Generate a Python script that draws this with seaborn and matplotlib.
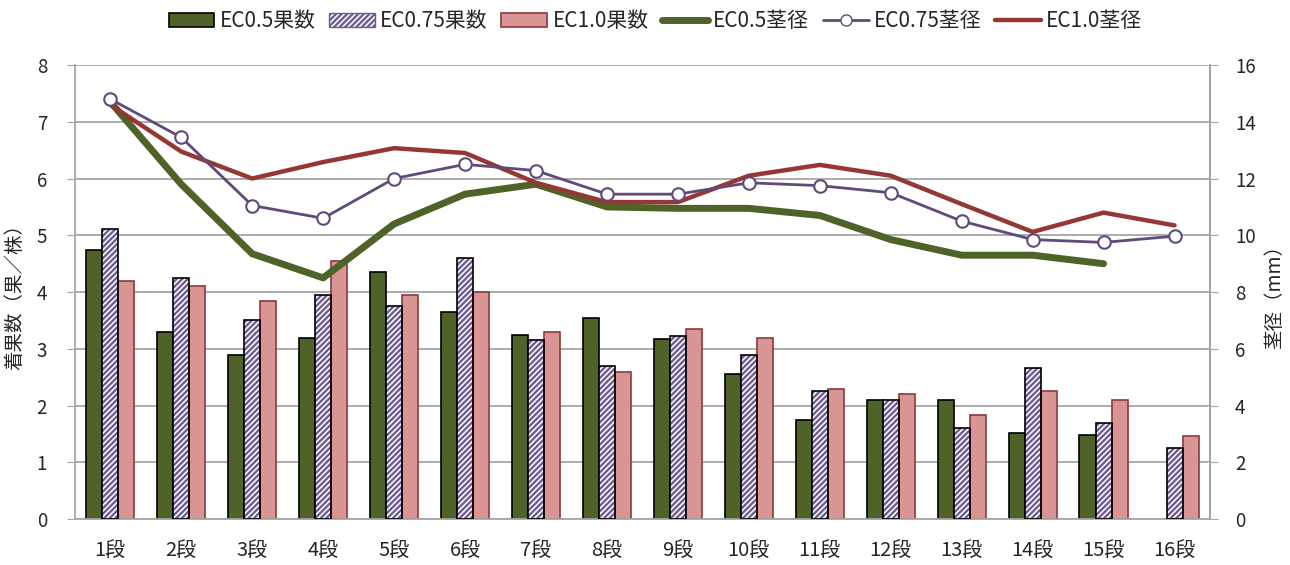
import numpy as np
import pandas as pd
import matplotlib
matplotlib.use('Agg')
import matplotlib.pyplot as plt
import seaborn as sns
from matplotlib.patches import Rectangle, Patch
from matplotlib.lines import Line2D

# data
stages = [f'{i}段' for i in range(1, 17)]
fruit_ec05 = [4.75, 3.30, 2.90, 3.20, 4.35, 3.65, 3.25, 3.55, 3.17, 2.55, 1.75, 2.10, 2.10, 1.52, 1.48, np.nan]
fruit_ec075 = [5.12, 4.25, 3.50, 3.95, 3.75, 4.60, 3.15, 2.70, 3.22, 2.90, 2.25, 2.10, 1.60, 2.66, 1.70, 1.25]
fruit_ec10 = [4.20, 4.10, 3.85, 4.55, 3.95, 4.00, 3.30, 2.60, 3.35, 3.20, 2.30, 2.20, 1.84, 2.25, 2.10, 1.46]
stem_ec05 = [14.7, 11.8, 9.35, 8.5, 10.4, 11.45, 11.8, 11.0, 10.95, 10.95, 10.7, 9.85, 9.3, 9.3, 9.0, np.nan]
stem_ec075 = [14.8, 13.45, 11.05, 10.6, 12.0, 12.5, 12.28, 11.45, 11.45, 11.85, 11.75, 11.5, 10.5, 9.85, 9.75, 9.97]
stem_ec10 = [14.6, 12.95, 12.0, 12.58, 13.07, 12.9, 11.85, 11.17, 11.17, 12.1, 12.48, 12.1, 11.1, 10.12, 10.8, 10.35]

bar_names = ['EC0.5果数', 'EC0.75果数', 'EC1.0果数']
line_names = ['EC0.5茎径', 'EC0.75茎径', 'EC1.0茎径']

green = '#4F6228'
purple = '#604A7B'
hatch_purple = '#6E5C92'
pink = '#D99594'
red = '#953735'
gridc = '#A6A6A6'

df = pd.DataFrame({
    '段': stages * 3,
    '果数': fruit_ec05 + fruit_ec075 + fruit_ec10,
    '区': sum([[n] * len(stages) for n in bar_names], []),
})

sns.set_style('white')
plt.rcParams['font.family'] = ['Noto Sans CJK JP', 'DejaVu Sans']
plt.rcParams['hatch.linewidth'] = 1.7

fig = plt.figure(figsize=(12.9, 5.65), dpi=100)
ax = fig.add_axes([0.058, 0.081, 0.880, 0.804])

sns.barplot(data=df, x='段', y='果数', hue='区', hue_order=bar_names, order=stages,
            palette=[green, 'white', pink], width=0.68, gap=0, saturation=1,
            legend=False, ax=ax, zorder=2)

# bar styling per series
for p in ax.containers[0]:
    p.set_edgecolor('black')
    p.set_linewidth(1.2)
for p in ax.containers[1]:
    p.set_facecolor('white')
    p.set_edgecolor(hatch_purple)
    p.set_hatch('//////')
    p.set_linewidth(0)
    ax.add_patch(Rectangle(p.get_xy(), p.get_width(), p.get_height(), fill=False,
                           edgecolor='black', linewidth=1.2, zorder=3))
for p in ax.containers[2]:
    p.set_edgecolor('#8B3A3A')
    p.set_linewidth(1.2)

ax.set_ylim(0, 8)
ax.set_xlim(-0.5, len(stages) - 0.5)
ax.set_yticks(range(0, 9))
ax.grid(axis='y', color=gridc, linewidth=1.3, zorder=0)
ax.set_axisbelow(True)
ax.set_xlabel('')
ax.set_ylabel('着果数（果／株）', fontsize=14, labelpad=8)
ax.tick_params(axis='y', labelsize=13.5, length=6, color=gridc, direction='out', pad=14)
ax.tick_params(axis='x', which='major', labelsize=14.5, length=0, pad=15)
ax.set_xticks(np.arange(-0.5, len(stages)), minor=True)
ax.tick_params(axis='x', which='minor', length=7, color=gridc, width=1.3)
for s in ['left', 'bottom', 'right']:
    ax.spines[s].set_color(gridc)
    ax.spines[s].set_linewidth(1.3)
ax.spines['top'].set_visible(False)

ax2 = ax.twinx()
pos = np.arange(len(stages))
sns.lineplot(x=pos, y=stem_ec05, ax=ax2, color=green, linewidth=5)
sns.lineplot(x=pos, y=stem_ec10, ax=ax2, color=red, linewidth=3.2)
sns.lineplot(x=pos, y=stem_ec075, ax=ax2, color=purple, linewidth=2, marker='o',
             markersize=9, markerfacecolor='white', markeredgecolor=purple, markeredgewidth=1.5)
ax2.set_ylim(0, 16)
ax2.set_yticks(range(0, 17, 2))
ax2.set_ylabel('茎径（mm）', fontsize=14, labelpad=6)
ax2.tick_params(axis='y', labelsize=13.5, length=6, color=gridc, pad=12)
for s in ['top', 'left', 'bottom']:
    ax2.spines[s].set_visible(False)
ax2.spines['right'].set_color(gridc)
ax2.spines['right'].set_linewidth(1.3)

handles = [
    Patch(facecolor=green, edgecolor='black', linewidth=1.2),
    Patch(facecolor='white', edgecolor=hatch_purple, hatch='//////', linewidth=1.0),
    Patch(facecolor=pink, edgecolor='#8B3A3A', linewidth=1.2),
    Line2D([], [], color=green, linewidth=5),
    Line2D([], [], color=purple, linewidth=2, marker='o', markersize=8,
           markerfacecolor='white', markeredgecolor=purple),
    Line2D([], [], color=red, linewidth=3.2),
]
fig.legend(handles, bar_names + line_names, loc='center', bbox_to_anchor=(0.508, 0.962),
           ncol=6, frameon=False, fontsize=15, handlelength=2.2, handletextpad=0.25,
           columnspacing=0.65)

fig.savefig('out.png', dpi=100)
